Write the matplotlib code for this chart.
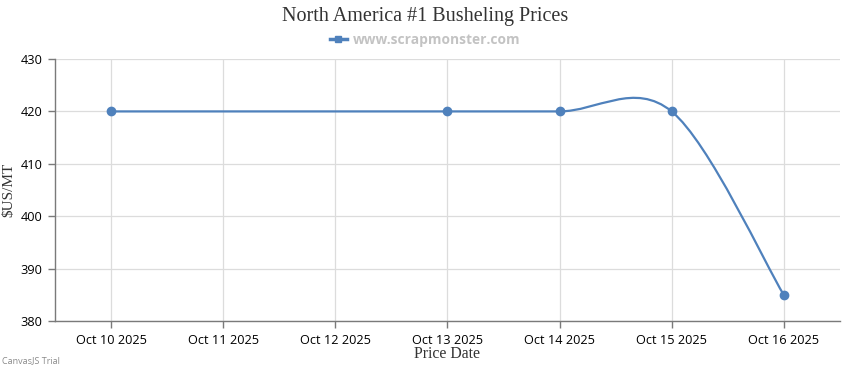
import numpy as np
import pandas as pd
import matplotlib.pyplot as plt
import matplotlib.dates as mdates
from matplotlib.path import Path
from matplotlib.patches import PathPatch
from matplotlib.lines import Line2D

price_dates = ["2025-10-10", "2025-10-13", "2025-10-14", "2025-10-15", "2025-10-16"]
prices = [420, 420, 420, 420, 385]
tick_dates = pd.date_range("2025-10-10", "2025-10-16", freq="D")

line_color = "#4f81bc"
x = mdates.date2num(pd.to_datetime(price_dates))
y = np.array(prices, dtype=float)

# spline through the points (cardinal / catmull-rom bezier, like the canvasjs spline)
verts = [(x[0], y[0])]
codes = [Path.MOVETO]
n = len(x)
for i in range(n - 1):
    i0 = max(i - 1, 0)
    i3 = min(i + 2, n - 1)
    c1 = (x[i] + (x[i + 1] - x[i0]) / 6, y[i] + (y[i + 1] - y[i0]) / 6)
    c2 = (x[i + 1] - (x[i3] - x[i]) / 6, y[i + 1] - (y[i3] - y[i]) / 6)
    verts += [c1, c2, (x[i + 1], y[i + 1])]
    codes += [Path.CURVE4] * 3

fig = plt.figure(figsize=(8.5, 3.7), dpi=100)
ax = fig.add_axes([0.0647, 0.1324, 0.9233, 0.7081])

ax.add_patch(PathPatch(Path(verts, codes), facecolor="none", edgecolor=line_color, lw=1.6, zorder=3))
ax.plot(x, y, "o", color=line_color, ms=6, zorder=4)

ax.set_ylim(380, 430)
ax.set_yticks([380, 390, 400, 410, 420, 430])
t = mdates.date2num(tick_dates)
ax.set_xlim(t[0] - 0.5, t[-1] + 0.5)
ax.set_xticks(t)
ax.set_xticklabels([d.strftime("%b %d %Y") for d in tick_dates])

ax.grid(True, color="#dcdcdc", lw=0.9)
ax.set_axisbelow(True)
for s in ["top", "right"]:
    ax.spines[s].set_visible(False)
for s in ["left", "bottom"]:
    ax.spines[s].set_color("#7a7a7a")
    ax.spines[s].set_linewidth(1.0)
ax.tick_params(axis="both", colors="#7a7a7a", length=5, width=1, labelsize=9.2,
               labelcolor="black", pad=4)
for lab in ax.get_xticklabels() + ax.get_yticklabels():
    lab.set_family("Open Sans")

ax.set_ylabel(r"\$US/MT", family="Liberation Serif", fontsize=11, color="#333333", va="center")
ax.yaxis.set_label_coords(-0.059, 0.5)
ax.set_xlabel("Price Date", family="Liberation Serif", fontsize=11.3, color="#333333", va="center")
ax.xaxis.set_label_coords(0.5, -0.126)

fig.text(0.5, 0.955, "North America #1 Busheling Prices", ha="center", va="center",
         family="Liberation Serif", fontsize=14.5, color="#333333")
handle = Line2D([], [], color=line_color, lw=2.5, marker="s", ms=4)
fig.legend([handle], ["www.scrapmonster.com"], loc="center", bbox_to_anchor=(0.5, 0.893),
           frameon=False, handlelength=1.3, handletextpad=0.4,
           prop={"family": "Open Sans", "weight": "bold", "size": 9.9}, labelcolor="#c3c3c3")

fig.text(0.002, 0.012, "CanvasJS Trial", ha="left", va="bottom", family="Open Sans",
         fontsize=6.5, color="#8a8a8a")

fig.savefig("out.png", dpi=100)
